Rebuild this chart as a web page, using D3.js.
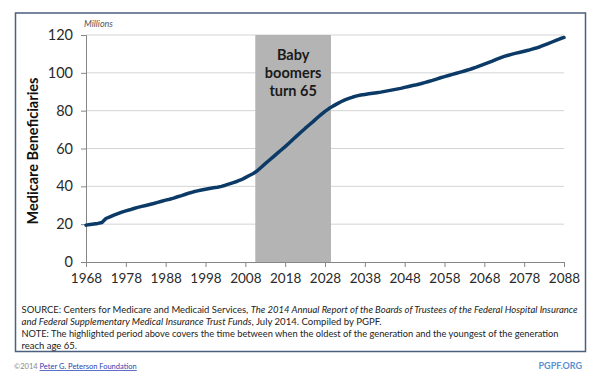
<!DOCTYPE html>
<html>
<head>
<meta charset="utf-8">
<script src="https://cdn.jsdelivr.net/npm/d3@7"></script>
<style>
html,body{margin:0;padding:0;background:#fff;}
svg{display:block;}
text{font-family:Lato,"Open Sans",sans-serif;}
</style>
</head>
<body>
<svg id="chart" width="600" height="380"></svg>
<script>
// ---- data ----
const years = d3.range(1968, 2089);
const beneficiaries = [
19.5,19.8,20.1,20.4,20.9,23.0,23.9,24.8,25.6,26.4,
27.0,27.6,28.3,28.9,29.4,29.9,30.4,30.9,31.5,32.1,
32.7,33.2,33.8,34.5,35.1,35.8,36.5,37.1,37.6,38.1,
38.5,38.9,39.2,39.5,40.0,40.6,41.3,42.0,42.7,43.5,
44.6,45.7,46.8,48.2,50.1,52.0,53.8,55.6,57.4,59.2,
61.0,62.9,64.9,66.8,68.7,70.6,72.4,74.2,76.1,77.9,
79.6,81.1,82.4,83.6,84.7,85.7,86.5,87.2,87.8,88.3,
88.6,88.9,89.2,89.5,89.8,90.2,90.6,91.0,91.4,91.8,
92.3,92.8,93.3,93.7,94.2,94.8,95.4,96.0,96.7,97.4,
98.0,98.6,99.2,99.8,100.4,101.0,101.6,102.3,103.0,103.8,
104.6,105.4,106.2,107.1,107.9,108.7,109.3,109.9,110.4,110.9,
111.4,111.9,112.5,113.1,113.8,114.6,115.4,116.3,117.2,118.0,
118.7];
const xTicks = [1968,1978,1988,1998,2008,2018,2028,2038,2048,2058,2068,2078,2088];
const yTicks = [0,20,40,60,80,100,120];
const highlight = [2010.5, 2029.5];
const highlightLabel = ["Baby","boomers","turn 65"];
const yTitle = "Medicare Beneficiaries";
const unitLabel = "Millions";

const svg = d3.select("#chart");

// outer frame
svg.append("rect").attr("x",15.5).attr("y",13).attr("width",570).attr("height",338.5)
  .attr("fill","#fff").attr("stroke","#4b5f7e").attr("stroke-width",1.5);

const x = d3.scaleLinear().domain([1968,2088]).range([86,564]);
const y = d3.scaleLinear().domain([0,120]).range([262,35]);

// gridlines
svg.append("g").selectAll("line").data(yTicks.filter(d=>d>0)).join("line")
  .attr("x1",x(1968)).attr("x2",x(2088))
  .attr("y1",d=>y(d)).attr("y2",d=>y(d))
  .attr("stroke","#d4d4d4").attr("stroke-width",1);

// highlight band
svg.append("rect")
  .attr("x",x(highlight[0])).attr("width",x(highlight[1])-x(highlight[0]))
  .attr("y",y(120)).attr("height",y(0)-y(120))
  .attr("fill","#b4b4b4");

svg.append("text").attr("x",(x(highlight[0])+x(highlight[1]))/2).attr("y",59.5)
  .attr("text-anchor","middle").attr("font-weight","bold").attr("font-size",14.5).attr("fill","#1a1a1a")
  .selectAll("tspan").data(highlightLabel).join("tspan")
  .attr("x",(x(highlight[0])+x(highlight[1]))/2)
  .attr("dy",(d,i)=>i===0?0:18).text(d=>d);

// axes
const yAxis = svg.append("g").attr("transform",`translate(${x(1968)},0)`)
  .call(d3.axisLeft(y).tickValues(yTicks).tickSize(5).tickPadding(8));
const xAxis = svg.append("g").attr("transform",`translate(0,${y(0)})`)
  .call(d3.axisBottom(x).tickValues(xTicks).tickFormat(d3.format("d")).tickSize(5).tickPadding(6));
[yAxis,xAxis].forEach(g=>{
  g.select(".domain").attr("stroke","#868686");
  g.selectAll(".tick line").attr("stroke","#868686");
  g.selectAll(".tick text").attr("font-family","Lato, sans-serif").attr("font-size",13.5).attr("fill","#2a2a2a");
});
yAxis.selectAll(".tick text").attr("font-size",14.5);

// line
svg.append("path").datum(years.map((yr,i)=>[yr,beneficiaries[i]]))
  .attr("fill","none").attr("stroke","#0b3a66").attr("stroke-width",3.5)
  .attr("stroke-linejoin","round").attr("stroke-linecap","round")
  .attr("d",d3.line().x(d=>x(d[0])).y(d=>y(d[1])));

// y title
svg.append("text").attr("transform","translate(38,151) rotate(-90)")
  .attr("text-anchor","middle").attr("font-weight","bold").attr("font-size",14.5).attr("fill","#111")
  .text(yTitle);
svg.append("text").attr("x",84).attr("y",27).attr("font-style","italic").attr("font-size",9)
  .attr("fill","#555").text(unitLabel);

// source notes
const notes = svg.append("g").attr("font-size",9.5).attr("fill","#222");
const l1 = notes.append("text").attr("x",21.5).attr("y",313).attr("textLength",556).attr("lengthAdjust","spacingAndGlyphs");
l1.append("tspan").text("SOURCE:  Centers for Medicare and Medicaid Services, ");
l1.append("tspan").attr("font-style","italic").text("The 2014 Annual Report of the Boards of Trustees of the Federal Hospital Insurance");
const l2 = notes.append("text").attr("x",21.5).attr("y",325).attr("textLength",360).attr("lengthAdjust","spacingAndGlyphs");
l2.append("tspan").attr("font-style","italic").text("and Federal Supplementary Medical Insurance Trust Funds");
l2.append("tspan").text(", July 2014. Compiled by PGPF.");
notes.append("text").attr("x",21.5).attr("y",337).attr("textLength",537).attr("lengthAdjust","spacingAndGlyphs")
  .text("NOTE:  The highlighted period above covers the time between when the oldest of the generation and the youngest of the generation");
notes.append("text").attr("x",21.5).attr("y",348.5).text("reach age 65.");

// footer
const f = svg.append("text").attr("x",14).attr("y",369).attr("font-size",7.5);
f.append("tspan").attr("fill","#888").text("©2014 ");
f.append("tspan").attr("fill","#2a3fb0").attr("text-decoration","underline").text("Peter G. Peterson Foundation");
svg.append("text").attr("x",582).attr("y",369).attr("text-anchor","end").attr("font-size",9)
  .attr("font-weight","bold").attr("fill","#5b8fd0").text("PGPF.ORG");
</script>
</body>
</html>
